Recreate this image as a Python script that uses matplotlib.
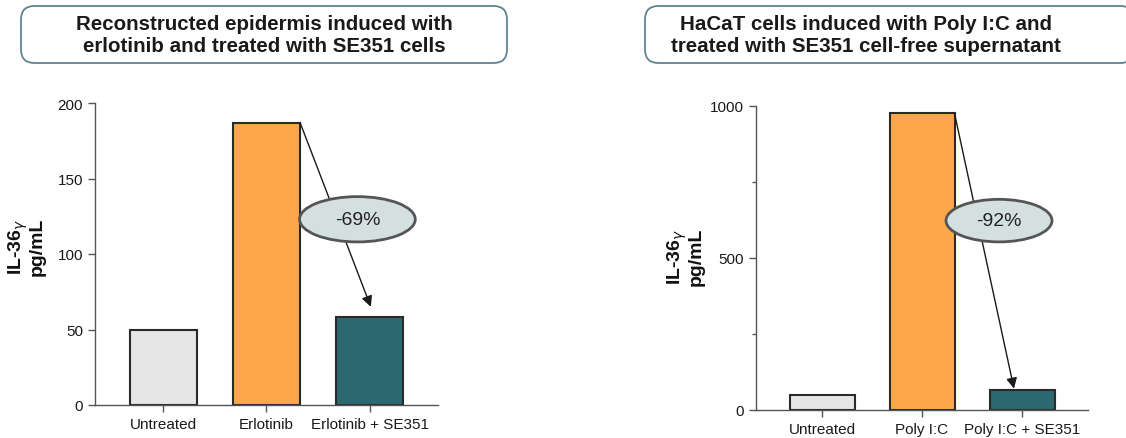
import matplotlib
matplotlib.use("Agg")
import matplotlib.pyplot as plt
from matplotlib.patches import Ellipse, FancyBboxPatch

plt.rcParams["font.family"] = ["Liberation Sans", "DejaVu Sans"]

# data
left_labels = ["Untreated", "Erlotinib", "Erlotinib + SE351"]
left_values = [50, 187, 58]
left_drop = "-69%"

right_labels = ["Untreated", "Poly I:C", "Poly I:C + SE351"]
right_values = [49, 976, 67]
right_drop = "-92%"

colors = ["#e6e6e6", "#fca84a", "#2b6870"]
edge = "#2a2a2a"
axis_c = "#555555"

W, H = 1126, 439
fig = plt.figure(figsize=(W / 100, H / 100), dpi=100)


def px_axes(x0, x1, ytop, ybot):
    return fig.add_axes([x0 / W, 1 - ybot / H, (x1 - x0) / W, (ybot - ytop) / H])


def draw_panel(ax, labels, values, ymax, major, minor, drop, arrow_end, ell_c, ell_wh):
    x = range(len(values))
    ax.bar(x, values, width=0.65, color=colors, edgecolor=edge, linewidth=1.5, zorder=2)
    ax.set_xlim(-0.66, 2.66)
    ax.set_ylim(0, ymax)
    for s in ("top", "right"):
        ax.spines[s].set_visible(False)
    for s in ("left", "bottom"):
        ax.spines[s].set_color(axis_c)
        ax.spines[s].set_linewidth(1.0)
    ax.spines["left"].set_bounds(0, ymax)
    ax.set_yticks(major)
    if minor:
        ax.set_yticks(minor, minor=True)
    ax.set_xticks(list(x))
    ax.set_xticklabels(labels)
    ax.tick_params(axis="both", colors=axis_c, labelcolor="#1a1a1a", labelsize=11,
                   length=5, width=1.0)
    ax.tick_params(axis="y", which="minor", colors=axis_c, length=3, width=1.0)
    ax.set_facecolor("none")
    # arrow from the top-right corner of the induced bar down to the treated bar
    ax.annotate("", xy=arrow_end, xytext=(1.325, values[1]),
                arrowprops=dict(arrowstyle="-|>", color="#1a1a1a", lw=1.0,
                                mutation_scale=16, shrinkA=0, shrinkB=0), zorder=3)
    ax.add_patch(Ellipse(ell_c, ell_wh[0], ell_wh[1], facecolor="#d4dfe0",
                         edgecolor="#555555", linewidth=2.0, zorder=4))
    ax.text(ell_c[0], ell_c[1], drop, ha="center", va="center", fontsize=14,
            color="#222222", zorder=5)


ax1 = px_axes(95, 438, 104, 406)
draw_panel(ax1, left_labels, left_values, 200, [0, 50, 100, 150, 200], None,
           left_drop, (2.01, 65), (1.88, 123), (1.12, 30))

ax2 = px_axes(756, 1088, 107, 411)
draw_panel(ax2, right_labels, right_values, 1000, [0, 500, 1000], [250, 750],
           right_drop, (1.92, 70), (1.77, 623), (1.06, 140))

# y labels
for xc, yc in [(26, 247), (685, 257)]:
    fig.text(xc / W, 1 - yc / H, "IL-36$_{\\gamma}$\npg/mL", rotation=90, ha="center",
             va="center", fontsize=14, fontweight="bold", color="#111111",
             linespacing=0.95)

# title boxes
titles = [
    ("Reconstructed epidermis induced with\nerlotinib and treated with SE351 cells",
     21, 507, 264),
    ("HaCaT cells induced with Poly I:C and\ntreated with SE351 cell-free supernatant",
     645, 1134, 866),
]
for txt, x0, x1, xc in titles:
    y0, y1 = 7, 64
    box = FancyBboxPatch((x0 / W, 1 - y1 / H), (x1 - x0) / W, (y1 - y0) / H,
                         boxstyle="round,pad=0,rounding_size=0.012",
                         transform=fig.transFigure, facecolor="white",
                         edgecolor="#5f8590", linewidth=1.3, mutation_aspect=W / H)
    fig.patches.append(box)
    fig.text(xc / W, 1 - 36 / H, txt, ha="center", va="center", fontsize=14.8,
             fontweight="bold", color="#1a1a1a", linespacing=1.2)

fig.savefig("out.png", dpi=100)
